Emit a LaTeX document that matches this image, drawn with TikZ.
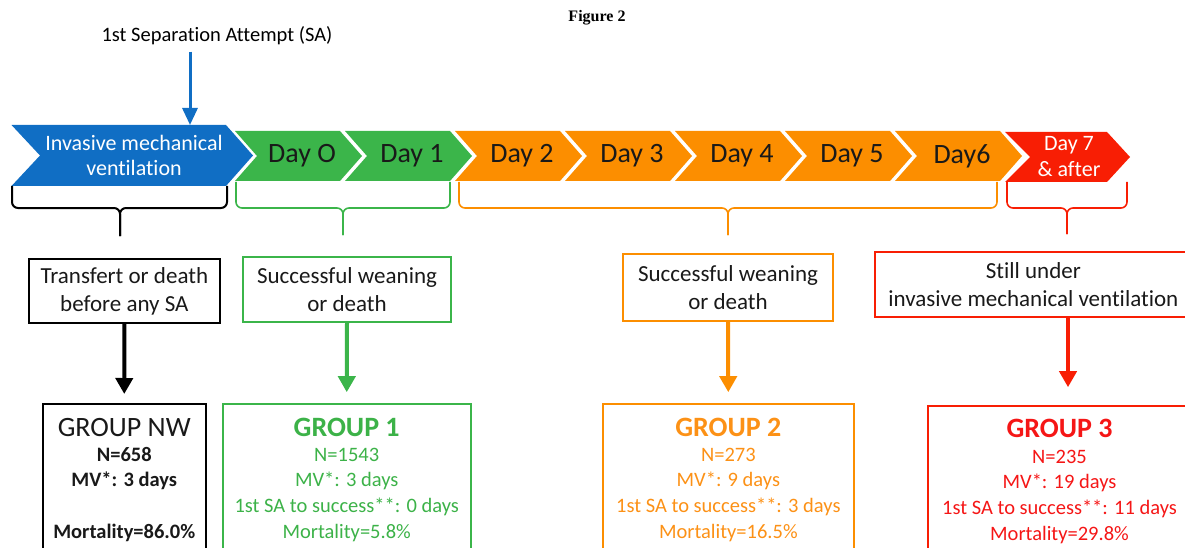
\documentclass[tikz,border=0pt]{standalone}
\usepackage{fontspec}
\setmainfont{Carlito}[Ligatures=NoCommon]
\newfontfamily\figfont{Liberation Serif}
\usetikzlibrary{arrows.meta}
\definecolor{mvblue}{RGB}{16,110,196}
\definecolor{dgreen}{RGB}{59,181,74}
\definecolor{dorange}{RGB}{252,142,0}
\definecolor{dred}{RGB}{248,30,4}
\definecolor{tred}{RGB}{245,22,22}
\definecolor{torange}{RGB}{252,145,22}
\definecolor{tgreen}{RGB}{60,178,72}
\begin{document}
\begin{tikzpicture}[x=1pt,y=-1pt,
  chevtext/.style={font=\fontsize{28}{30}\selectfont, text=black!90},
  brace/.style={rounded corners=6pt, line width=1.6pt},
  box/.style={draw, line width=1.6pt, inner sep=0pt},
  boxtext/.style={font=\fontsize{23}{28}\selectfont, align=center, text=black!90},
  dline/.style={font=\fontsize{20.5}{24}\selectfont, anchor=base},
  titleline/.style={font=\fontsize{28}{30}\selectfont, anchor=base},
  down/.style={line width=4pt, -{Triangle[width=17pt,length=16pt]}},
]
\useasboundingbox (0,0) rectangle (1185,548);

% title
\node[font=\figfont\bfseries\fontsize{16}{18}\selectfont] (fig) at (597,18) {Figure 2};

% first separation attempt
\node[font=\fontsize{20.5}{24}\selectfont] (SA) at (217,36) {1st Separation Attempt (SA)};
\coordinate (ax) at (190,0);

% blue chevron
\fill[mvblue] (11.5,125) -- (226,125) -- (253,155.5) -- (226,186) -- (11.5,186) -- (40,155.5) -- cycle;
\node[font=\fontsize{22}{25}\selectfont, text=white, align=center] (imv) at (134,155) {Invasive mechanical\\ventilation};
\coordinate (bluetop) at (190,125);
\draw[mvblue, line width=3pt, -{Triangle[width=15pt,length=17pt]}, shorten <=3pt] (SA.south -| ax) -- (bluetop);

% day chevrons
\foreach \k/\t/\c in {0/Day O/dgreen,1/Day 1/dgreen,2/Day 2/dorange,3/Day 3/dorange,4/Day 4/dorange,5/Day 5/dorange,6/Day6/dorange}{
  \fill[\c] ({235+110*\k},131) -- ({340+110*\k},131) -- ({362+110*\k},156) -- ({340+110*\k},181) -- ({235+110*\k},181) -- ({257+110*\k},156) -- cycle;
  \node[chevtext] (c\k) at ({302+110*\k},156) {\t};
}

% red chevron
\fill[dred] (1005,132) -- (1107,132) -- (1130,157) -- (1107,182) -- (1005,182) -- (1030,157) -- cycle;
\node[font=\fontsize{22}{26}\selectfont, text=white, align=center] (c7) at (1069,157) {Day 7\\\& after};

% braces
\draw[brace, black, line width=2pt] (12,186) -- (12,208) -- (120,208) -- (120,236);
\draw[brace, black, line width=2pt] (227,186) -- (227,208) -- (120,208) -- (120,236);
\draw[brace, dgreen] (236,182) -- (236,208) -- (343,208) -- (343,235);
\draw[brace, dgreen] (450,182) -- (450,208) -- (343,208) -- (343,235);
\draw[brace, dorange] (459,182) -- (459,208) -- (728,208) -- (728,235);
\draw[brace, dorange] (997,182) -- (997,208) -- (728,208) -- (728,235);
\draw[brace, dred] (1007,182) -- (1007,208) -- (1067,208) -- (1067,234);
\draw[brace, dred] (1127,182) -- (1127,208) -- (1067,208) -- (1067,234);

% upper boxes
\node[box, draw=black, line width=2pt, minimum width=191.3pt, minimum height=64pt, boxtext] (TB) at (124.35,291) {Transfert or death\\before any SA};
\node[box, draw=dgreen, minimum width=208pt, minimum height=65pt, boxtext] (G1a) at (347,289.5) {Successful weaning\\or death};
\node[box, draw=dorange, minimum width=210pt, minimum height=67pt, boxtext] (O1a) at (728,287.5) {Successful weaning\\or death};
\node[box, draw=dred, minimum width=317.3pt, minimum height=65pt, boxtext] (R1a) at (1033.35,284.5) {Still under\\invasive mechanical ventilation};

% group boxes
\node[box, draw=black, line width=2pt, minimum width=162.5pt, minimum height=156pt] (NW) at (124.25,482) {};
\node[box, draw=dgreen, minimum width=248pt, minimum height=156pt] (G1b) at (346.7,482) {};
\node[box, draw=dorange, minimum width=250.7pt, minimum height=156pt] (O1b) at (728.35,482) {};
\node[box, draw=dred, minimum width=263pt, minimum height=156pt] (R1b) at (1059.5,484) {};

% arrows
\coordinate (rx) at (1068,0);
\draw[down, black, shorten >=9pt] (TB.south) -- (NW.north);
\draw[down, dgreen, shorten >=11pt] (G1a.south) -- (G1b.north);
\draw[down, dorange, shorten >=11pt] (O1a.south) -- (O1b.north);
\draw[down, dred, shorten >=18pt] (R1a.south -| rx) -- (R1b.north -| rx);

% group NW text
\node[titleline, text=black!90] (nwt) at (124.25,436) {GROUP NW};
\node[dline, font=\bfseries\fontsize{20.5}{24}\selectfont, text=black!90] (nw1) at (124.25,461.5) {N=658};
\node[dline, font=\bfseries\fontsize{20.5}{24}\selectfont, text=black!90] (nw2) at (124.25,486.5) {MV*: 3 days};
\node[dline, font=\bfseries\fontsize{20.5}{24}\selectfont, text=black!90] (nw4) at (124.25,538.5) {Mortality=86.0\%};

% group 1 text
\node[titleline, font=\bfseries\fontsize{28}{30}\selectfont, text=tgreen] (g1t) at (346.7,436) {GROUP 1};
\node[dline, text=tgreen] (g11) at (346.7,461.5) {N=1543};
\node[dline, text=tgreen] (g12) at (346.7,486.5) {MV*: 3 days};
\node[dline, text=tgreen] (g13) at (346.7,512.5) {1st SA to success**: 0 days};
\node[dline, text=tgreen] (g14) at (346.7,538.5) {Mortality=5.8\%};

% group 2 text
\node[titleline, font=\bfseries\fontsize{28}{30}\selectfont, text=torange] (g2t) at (728.35,436) {GROUP 2};
\node[dline, text=torange] (g21) at (728.35,461.5) {N=273};
\node[dline, text=torange] (g22) at (728.35,486.5) {MV*: 9 days};
\node[dline, text=torange] (g23) at (728.35,512.5) {1st SA to success**: 3 days};
\node[dline, text=torange] (g24) at (728.35,538.5) {Mortality=16.5\%};

% group 3 text
\node[titleline, font=\bfseries\fontsize{28}{30}\selectfont, text=tred] (g3t) at (1059.5,437) {GROUP 3};
\node[dline, text=tred] (g31) at (1059.5,463.5) {N=235};
\node[dline, text=tred] (g32) at (1059.5,488.5) {MV*: 19 days};
\node[dline, text=tred] (g33) at (1059.5,514.5) {1st SA to success**: 11 days};
\node[dline, text=tred] (g34) at (1059.5,540.5) {Mortality=29.8\%};
\end{tikzpicture}
\end{document}
